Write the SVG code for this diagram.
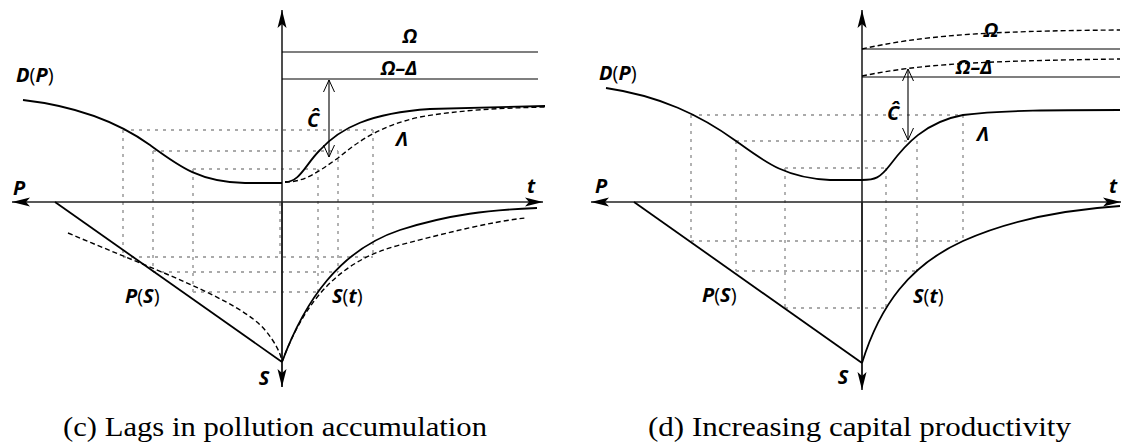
<svg xmlns="http://www.w3.org/2000/svg" width="1124" height="446" viewBox="0 0 1124 446">
<style>
.ax{stroke:#222;stroke-width:1.6;fill:none}
.cv{stroke:#000;stroke-width:1.8;fill:none}
.ds{stroke:#000;stroke-width:1.4;fill:none;stroke-dasharray:5,3}
.dt{stroke:#aaa;stroke-width:1.8;fill:none;stroke-dasharray:3,5}
.th{stroke:#000;stroke-width:1.1;fill:none}
.lb{font-family:"Open Sans","Liberation Sans",sans-serif;font-weight:bold;font-style:italic;font-size:20px;fill:#000}
.up{font-style:normal;font-weight:normal}
.cap{font-family:"Liberation Serif","DejaVu Serif",serif;font-size:28px;fill:#000}
</style>
<defs>
<marker id="ah" markerWidth="18" markerHeight="10" refX="18" refY="5" orient="auto" markerUnits="userSpaceOnUse"><path d="M0,0.5 L18,5 L0,9.5 L4,5 z" fill="#000"/></marker>
<marker id="oa" markerWidth="14" markerHeight="14" refX="12" refY="6" orient="auto-start-reverse" markerUnits="userSpaceOnUse"><path d="M0,0.5 L12,6 L0,11.5" fill="none" stroke="#000" stroke-width="1"/></marker>
</defs>

<g id="panel-c">
<g id="grid-c">
<path class="dt" d="M123,130 H373 M153,151 H338 M193,169 H318 M123,257 H373 M153,272 H338 M193,292 H318"/>
<path class="dt" d="M123,130 V257 M153,151 V272 M193,169 V292 M280,203 V257 M318,169 V292 M338,151 V272 M373,130 V257"/>
</g>
<g id="axes-c">
<line class="ax" x1="282" y1="387" x2="282" y2="10" marker-end="url(#ah)"/>
<line class="ax" x1="282" y1="202" x2="282" y2="387" marker-end="url(#ah)"/>
<line class="ax" x1="282" y1="202" x2="12" y2="202" marker-end="url(#ah)"/>
<line class="ax" x1="282" y1="202" x2="543" y2="202" marker-end="url(#ah)"/>
</g>
<g id="connectors-c">
<line class="th" x1="282" y1="52" x2="538" y2="52"/>
<line class="th" x1="282" y1="79" x2="538" y2="79"/>
<path class="cv" d="M23,100 C75,106 115,120 150,145 C180,167 200,182 245,183 L282,183"/>
<path class="cv" d="M285,182 C300,182 305,165 320,150 C340,128 370,113 430,109 L545,106"/>
<path class="ds" d="M285,182 C305,182 318,172 338,158 C360,140 380,126 420,117 C460,110 500,108 545,107"/>
<line class="th" x1="329" y1="80" x2="329" y2="157" marker-start="url(#oa)" marker-end="url(#oa)"/>
<line class="cv" x1="55" y1="202" x2="282" y2="362"/>
<path class="ds" d="M68,233 C150,268 240,300 265,330 C275,342 280,352 282,361"/>
<path class="cv" d="M282,362 C305,300 340,250 400,230 C450,214 490,210 537,208"/>
<path class="ds" d="M282,362 C305,300 340,260 400,245 C450,232 490,222 525,218"/>
</g>
<g id="labels-c">
<text class="lb" x="16" y="82">D<tspan class="up">(</tspan>P<tspan class="up">)</tspan></text>
<text class="lb" x="410" y="43" text-anchor="middle">Ω</text>
<text class="lb" x="399" y="75" text-anchor="middle">Ω–Δ</text>
<text class="lb" x="313" y="127" text-anchor="middle" font-size="22">Ĉ</text>
<text class="lb" x="402" y="146" text-anchor="middle">Λ</text>
<text class="lb" x="531" y="193" text-anchor="middle">t</text>
<text class="lb" x="19" y="195" text-anchor="middle">P</text>
<text class="lb" x="125" y="303">P<tspan class="up">(</tspan>S<tspan class="up">)</tspan></text>
<text class="lb" x="264" y="385" text-anchor="middle">S</text>
<text class="lb" x="332" y="303">S<tspan class="up">(</tspan>t<tspan class="up">)</tspan></text>
</g>
<text class="cap" x="63" y="436" textLength="424" lengthAdjust="spacingAndGlyphs">(c) Lags in pollution accumulation</text>
</g>

<g id="panel-d">
<g id="grid-d">
<path class="dt" d="M691,115 H963 M736,141 H908 M785,168 H886 M691,241 H963 M736,271 H917 M785,308 H886"/>
<path class="dt" d="M691,115 V241 M736,141 V271 M785,168 V308 M886,168 V308 M917,141 V271 M963,115 V241"/>
</g>
<g id="axes-d">
<line class="ax" x1="862" y1="387" x2="862" y2="10" marker-end="url(#ah)"/>
<line class="ax" x1="862" y1="202" x2="862" y2="390" marker-end="url(#ah)"/>
<line class="ax" x1="862" y1="202" x2="591" y2="202" marker-end="url(#ah)"/>
<line class="ax" x1="862" y1="202" x2="1121" y2="202" marker-end="url(#ah)"/>
</g>
<g id="connectors-d">
<line class="th" x1="862" y1="49" x2="1120" y2="49"/>
<line class="th" x1="862" y1="77" x2="1120" y2="77"/>
<path class="ds" d="M862,49 C920,36 980,31 1120,30"/>
<path class="ds" d="M862,76 C920,64 980,61 1120,59"/>
<path class="cv" d="M606,88 C660,96 700,115 736,141 C765,162 785,178 830,180 L862,180"/>
<path class="cv" d="M862,180 C875,180 880,178 890,165 C905,145 925,122 963,115 C1000,110 1060,110 1120,110"/>
<line class="th" x1="908" y1="69" x2="908" y2="140" marker-start="url(#oa)" marker-end="url(#oa)"/>
<line class="cv" x1="634" y1="202" x2="862" y2="363"/>
<path class="cv" d="M862,363 C880,305 910,265 963,241 C1010,220 1060,210 1120,206"/>
</g>
<g id="labels-d">
<text class="lb" x="599" y="80">D<tspan class="up">(</tspan>P<tspan class="up">)</tspan></text>
<text class="lb" x="991" y="37" text-anchor="middle">Ω</text>
<text class="lb" x="974" y="74" text-anchor="middle">Ω–Δ</text>
<text class="lb" x="893" y="120" text-anchor="middle" font-size="22">Ĉ</text>
<text class="lb" x="983" y="141" text-anchor="middle">Λ</text>
<text class="lb" x="1113" y="193" text-anchor="middle">t</text>
<text class="lb" x="601" y="193" text-anchor="middle">P</text>
<text class="lb" x="702" y="302">P<tspan class="up">(</tspan>S<tspan class="up">)</tspan></text>
<text class="lb" x="843" y="384" text-anchor="middle">S</text>
<text class="lb" x="913" y="303">S<tspan class="up">(</tspan>t<tspan class="up">)</tspan></text>
</g>
<text class="cap" x="648" y="436" textLength="423" lengthAdjust="spacingAndGlyphs">(d) Increasing capital productivity</text>
</g>
</svg>
